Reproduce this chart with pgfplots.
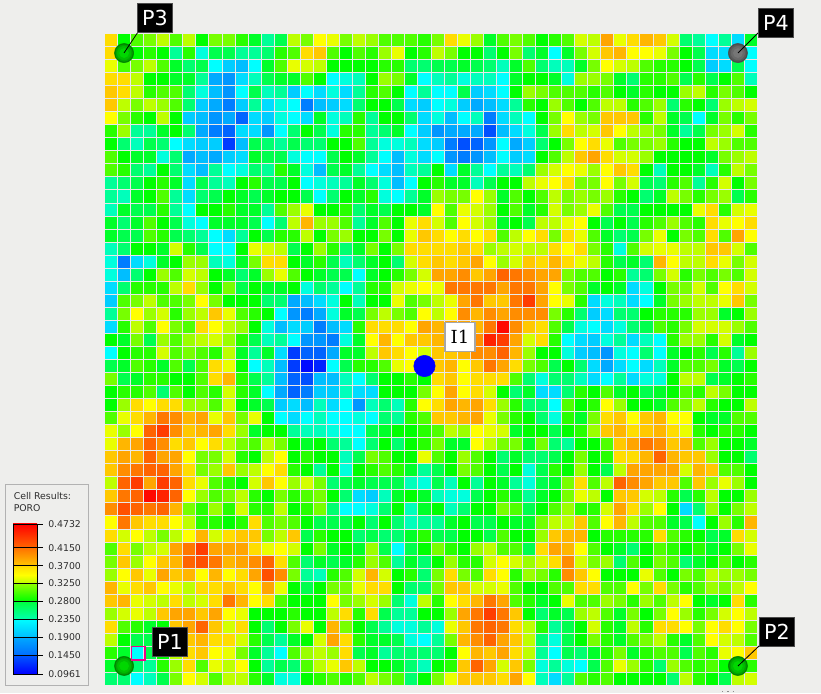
\documentclass[border=0pt]{standalone}
\usepackage{pgfplots}
\usepackage{pgfplotstable}
\usepackage{fontspec}
\setmainfont{DejaVu Sans}
\newfontfamily\wellserif{DejaVu Serif}
\pgfplotsset{compat=1.18}
\pgfplotstableread[header=false]{
.37 .28 .30 .31 .33 .30 .33 .28 .31 .31 .29 .27 .24 .26 .33 .31 .36 .35 .31 .33 .32 .30 .30 .30 .29 .31 .37 .35 .32 .27 .30 .31 .30 .28 .29 .30 .34 .33 .40 .35 .37 .39 .38 .34 .25 .24 .21 .24 .20 .27
.37 .30 .28 .29 .28 .24 .29 .22 .26 .26 .24 .24 .25 .29 .30 .37 .38 .30 .28 .30 .29 .32 .35 .28 .29 .33 .31 .28 .28 .25 .28 .31 .25 .27 .21 .27 .31 .34 .38 .39 .36 .36 .35 .31 .28 .26 .20 .20 .22 .21
.35 .30 .31 .33 .30 .27 .25 .26 .21 .19 .18 .21 .27 .30 .35 .34 .33 .28 .28 .28 .28 .29 .29 .25 .25 .26 .26 .27 .26 .25 .23 .27 .30 .25 .23 .23 .27 .31 .36 .34 .33 .30 .29 .29 .28 .26 .19 .20 .26 .21
.37 .37 .33 .28 .28 .27 .27 .24 .17 .16 .20 .23 .26 .27 .27 .30 .28 .21 .22 .23 .28 .32 .31 .27 .21 .23 .24 .22 .23 .23 .21 .27 .28 .28 .27 .22 .32 .32 .31 .27 .25 .29 .29 .30 .26 .29 .26 .28 .30 .23
.38 .37 .33 .29 .30 .30 .25 .22 .18 .16 .21 .26 .23 .24 .19 .21 .20 .22 .20 .24 .29 .30 .28 .21 .24 .21 .21 .26 .19 .20 .21 .28 .32 .31 .30 .30 .30 .29 .30 .28 .27 .29 .28 .28 .32 .33 .29 .31 .30 .28
.38 .33 .31 .33 .32 .30 .25 .19 .17 .15 .19 .24 .20 .22 .21 .15 .18 .19 .20 .25 .28 .28 .26 .20 .19 .21 .22 .19 .17 .18 .20 .24 .29 .28 .32 .30 .28 .30 .33 .33 .29 .30 .32 .25 .29 .28 .25 .32 .33 .34
.36 .31 .29 .28 .33 .28 .19 .18 .16 .17 .14 .20 .19 .22 .21 .20 .27 .22 .23 .29 .24 .28 .28 .25 .20 .22 .18 .21 .23 .15 .20 .23 .21 .28 .31 .36 .32 .31 .38 .38 .38 .29 .33 .27 .26 .21 .27 .31 .29 .31
.29 .32 .24 .24 .27 .28 .25 .17 .15 .14 .20 .20 .16 .21 .25 .28 .26 .22 .29 .29 .24 .25 .27 .21 .19 .16 .17 .17 .17 .13 .18 .20 .22 .26 .32 .37 .33 .34 .38 .36 .33 .32 .31 .27 .24 .26 .31 .32 .34 .29
.28 .25 .23 .26 .25 .21 .20 .19 .19 .12 .18 .26 .25 .24 .26 .25 .25 .28 .28 .30 .24 .22 .22 .23 .20 .19 .15 .13 .14 .16 .21 .17 .19 .25 .28 .31 .36 .37 .35 .30 .31 .31 .32 .29 .28 .28 .33 .32 .30 .30
.30 .28 .27 .27 .22 .25 .17 .18 .17 .19 .20 .27 .26 .26 .22 .21 .21 .26 .28 .27 .24 .21 .18 .22 .20 .21 .16 .15 .16 .18 .21 .19 .20 .28 .30 .33 .38 .40 .37 .34 .34 .32 .28 .28 .28 .28 .27 .31 .32 .33
.30 .29 .25 .24 .28 .25 .20 .18 .24 .21 .22 .25 .24 .29 .27 .22 .18 .26 .27 .24 .21 .20 .18 .23 .24 .28 .20 .27 .24 .21 .24 .23 .25 .32 .34 .36 .35 .32 .36 .38 .37 .28 .23 .28 .28 .27 .23 .29 .33 .31
.24 .25 .26 .28 .29 .27 .20 .26 .24 .23 .28 .29 .26 .26 .28 .21 .22 .23 .24 .27 .25 .22 .18 .21 .28 .29 .27 .27 .23 .26 .28 .28 .33 .35 .36 .37 .31 .31 .36 .31 .34 .26 .25 .29 .30 .24 .29 .34 .28 .31
.24 .23 .27 .28 .30 .24 .20 .25 .26 .28 .27 .26 .27 .28 .28 .26 .21 .25 .28 .27 .29 .22 .21 .24 .27 .32 .31 .31 .36 .32 .27 .30 .28 .30 .33 .31 .32 .31 .32 .29 .28 .25 .27 .33 .31 .29 .31 .32 .26 .29
.23 .27 .26 .26 .29 .24 .21 .28 .28 .29 .27 .27 .24 .30 .32 .35 .28 .28 .29 .25 .27 .26 .28 .28 .27 .36 .30 .35 .34 .32 .28 .30 .27 .29 .34 .31 .32 .35 .30 .26 .26 .28 .28 .28 .28 .35 .37 .29 .34 .35
.27 .25 .27 .30 .28 .26 .22 .21 .27 .27 .27 .26 .21 .25 .33 .39 .32 .32 .30 .24 .27 .30 .28 .35 .37 .34 .30 .36 .34 .32 .27 .28 .26 .33 .33 .35 .36 .28 .26 .28 .26 .29 .30 .32 .30 .29 .37 .35 .36 .37
.27 .26 .26 .30 .29 .26 .25 .24 .21 .20 .24 .28 .26 .29 .29 .33 .28 .31 .32 .28 .28 .31 .28 .35 .38 .37 .36 .37 .36 .37 .30 .33 .36 .37 .31 .37 .35 .30 .27 .25 .26 .31 .35 .28 .31 .30 .37 .30 .40 .36
.23 .25 .28 .28 .27 .34 .29 .26 .21 .21 .28 .35 .34 .33 .26 .28 .32 .29 .25 .27 .31 .28 .31 .37 .37 .37 .37 .38 .37 .32 .33 .34 .33 .33 .37 .36 .37 .31 .29 .22 .30 .34 .35 .35 .33 .33 .38 .38 .34 .30
.22 .15 .20 .22 .27 .28 .32 .32 .23 .22 .27 .31 .37 .37 .28 .27 .29 .26 .23 .25 .27 .28 .25 .34 .37 .38 .37 .38 .40 .36 .32 .34 .38 .37 .39 .37 .35 .33 .29 .26 .27 .25 .39 .36 .33 .33 .37 .35 .31 .34
.22 .18 .25 .28 .32 .30 .34 .33 .28 .27 .25 .27 .32 .35 .30 .28 .27 .26 .26 .21 .27 .28 .29 .31 .34 .40 .40 .41 .38 .40 .43 .42 .41 .40 .40 .31 .30 .30 .28 .29 .24 .25 .31 .34 .29 .31 .30 .31 .30 .34
.20 .25 .29 .29 .29 .33 .37 .32 .28 .31 .26 .28 .27 .27 .28 .22 .25 .24 .21 .24 .29 .29 .34 .35 .36 .35 .42 .42 .42 .42 .40 .42 .42 .40 .36 .31 .30 .27 .28 .27 .20 .22 .28 .31 .31 .34 .30 .36 .37 .34
.19 .30 .31 .33 .30 .30 .31 .36 .31 .28 .28 .28 .25 .25 .17 .18 .20 .22 .28 .23 .28 .28 .35 .30 .31 .33 .35 .40 .42 .38 .38 .42 .45 .40 .36 .35 .29 .20 .22 .23 .20 .21 .27 .31 .32 .33 .33 .35 .38 .31
.24 .31 .36 .32 .34 .29 .32 .33 .38 .35 .30 .29 .28 .21 .16 .15 .17 .22 .27 .26 .31 .33 .31 .30 .36 .33 .36 .41 .39 .41 .40 .41 .41 .41 .31 .29 .25 .19 .20 .25 .25 .28 .29 .29 .29 .32 .32 .27 .28 .32
.20 .29 .33 .30 .36 .31 .30 .37 .36 .33 .32 .28 .22 .18 .20 .19 .15 .18 .20 .29 .37 .37 .37 .36 .40 .39 .40 .40 .39 .42 .47 .41 .38 .37 .30 .26 .22 .21 .20 .22 .25 .26 .30 .29 .31 .34 .34 .34 .32 .30
.28 .27 .31 .26 .32 .30 .32 .33 .34 .32 .29 .26 .23 .24 .21 .16 .16 .15 .22 .27 .36 .39 .36 .38 .38 .39 .40 .40 .41 .46 .45 .40 .34 .37 .29 .21 .20 .19 .22 .24 .20 .23 .21 .29 .32 .32 .29 .34 .27 .28
.21 .28 .29 .29 .34 .30 .31 .30 .29 .33 .27 .24 .27 .20 .12 .14 .14 .17 .27 .27 .33 .38 .37 .36 .34 .38 .38 .39 .41 .41 .43 .39 .32 .28 .28 .22 .19 .18 .16 .22 .21 .25 .21 .27 .28 .29 .26 .29 .24 .32
.26 .27 .30 .29 .27 .30 .26 .30 .37 .35 .28 .21 .23 .18 .12 .10 .11 .21 .26 .29 .29 .30 .35 .36 .37 .38 .39 .36 .38 .42 .40 .37 .31 .30 .26 .28 .25 .20 .17 .20 .21 .20 .23 .27 .30 .30 .31 .27 .26 .28
.31 .26 .27 .29 .29 .28 .28 .30 .37 .39 .29 .26 .24 .18 .14 .13 .18 .18 .23 .21 .25 .28 .28 .29 .28 .37 .38 .36 .37 .37 .37 .30 .25 .22 .25 .25 .23 .20 .21 .24 .20 .22 .22 .28 .33 .33 .26 .27 .28 .29
.28 .29 .29 .30 .25 .30 .28 .30 .29 .34 .29 .27 .21 .17 .14 .15 .19 .19 .23 .20 .20 .28 .28 .28 .31 .36 .40 .36 .37 .34 .28 .25 .27 .20 .20 .25 .29 .28 .30 .27 .28 .26 .27 .28 .30 .29 .33 .31 .28 .28
.28 .32 .37 .36 .37 .37 .32 .32 .30 .34 .28 .27 .26 .19 .20 .18 .23 .20 .21 .16 .23 .25 .23 .29 .36 .37 .40 .39 .40 .37 .32 .29 .25 .25 .21 .30 .28 .29 .36 .32 .28 .28 .27 .30 .31 .33 .29 .28 .28 .33
.30 .35 .37 .39 .42 .41 .39 .40 .35 .38 .31 .35 .28 .21 .20 .21 .23 .21 .21 .22 .21 .25 .24 .29 .30 .38 .38 .39 .40 .35 .31 .29 .28 .25 .22 .29 .27 .31 .37 .38 .36 .38 .39 .36 .36 .28 .27 .27 .30 .30
.35 .32 .36 .43 .45 .41 .38 .39 .40 .37 .32 .27 .28 .28 .24 .23 .23 .22 .21 .21 .26 .27 .28 .28 .29 .30 .33 .32 .36 .35 .34 .27 .28 .28 .26 .28 .29 .32 .38 .39 .37 .38 .39 .37 .35 .29 .28 .29 .29 .28
.35 .39 .40 .43 .41 .37 .38 .36 .37 .33 .31 .30 .33 .31 .28 .27 .28 .25 .24 .21 .25 .28 .25 .28 .29 .31 .27 .27 .36 .33 .31 .31 .27 .31 .25 .24 .28 .28 .30 .38 .40 .42 .41 .38 .39 .30 .32 .28 .28 .27
.38 .40 .39 .43 .40 .40 .36 .31 .31 .34 .29 .28 .33 .36 .28 .29 .28 .28 .23 .26 .31 .30 .28 .28 .35 .30 .28 .32 .30 .28 .25 .27 .25 .25 .26 .28 .31 .28 .29 .37 .37 .39 .43 .39 .38 .38 .32 .28 .28 .25
.38 .41 .42 .43 .43 .40 .37 .31 .32 .38 .32 .33 .36 .37 .29 .28 .24 .28 .22 .28 .29 .30 .29 .27 .24 .26 .28 .31 .30 .28 .26 .28 .22 .26 .29 .28 .32 .28 .26 .33 .40 .40 .40 .40 .34 .39 .38 .30 .30 .28
.33 .43 .45 .40 .45 .43 .37 .35 .30 .29 .28 .34 .38 .36 .32 .34 .31 .25 .26 .27 .26 .26 .26 .23 .22 .26 .23 .28 .24 .28 .27 .24 .22 .26 .27 .31 .37 .30 .33 .43 .41 .40 .38 .38 .30 .38 .32 .35 .32 .28
.38 .42 .43 .47 .46 .43 .36 .32 .30 .31 .33 .29 .28 .31 .29 .30 .31 .28 .25 .20 .19 .23 .27 .28 .27 .23 .22 .22 .26 .28 .29 .27 .24 .27 .28 .31 .35 .33 .28 .38 .38 .34 .33 .29 .26 .29 .33 .28 .28 .32
.41 .44 .43 .42 .43 .39 .31 .29 .32 .29 .34 .29 .29 .33 .28 .29 .31 .25 .21 .21 .22 .25 .28 .23 .27 .28 .23 .25 .28 .28 .31 .30 .26 .28 .30 .32 .29 .29 .34 .40 .37 .32 .36 .28 .20 .25 .32 .28 .31 .33
.36 .42 .38 .37 .37 .36 .33 .29 .29 .28 .29 .37 .30 .31 .30 .28 .26 .26 .26 .28 .25 .28 .25 .23 .24 .24 .27 .28 .26 .26 .28 .27 .27 .31 .33 .33 .38 .30 .36 .39 .33 .30 .30 .27 .26 .21 .28 .32 .29 .39
.37 .34 .36 .33 .31 .33 .36 .39 .34 .37 .38 .38 .31 .33 .38 .26 .29 .28 .28 .25 .26 .25 .25 .27 .29 .26 .26 .28 .28 .26 .30 .28 .28 .32 .38 .39 .39 .28 .29 .29 .29 .29 .37 .30 .29 .28 .26 .27 .37 .34
.30 .37 .31 .33 .34 .40 .42 .45 .40 .40 .40 .37 .35 .36 .34 .28 .31 .27 .28 .27 .32 .26 .21 .26 .28 .31 .29 .28 .32 .33 .30 .30 .26 .37 .40 .39 .36 .30 .28 .27 .25 .28 .30 .29 .28 .29 .27 .28 .31 .35
.31 .38 .32 .36 .38 .39 .43 .44 .42 .39 .40 .41 .43 .37 .30 .25 .27 .26 .27 .29 .32 .30 .24 .27 .25 .28 .32 .29 .29 .34 .36 .34 .32 .34 .37 .41 .34 .31 .32 .25 .30 .28 .31 .30 .25 .27 .28 .30 .28 .29
.32 .36 .38 .35 .40 .38 .39 .36 .39 .36 .37 .40 .44 .41 .31 .24 .23 .29 .30 .34 .39 .34 .28 .29 .25 .31 .37 .31 .30 .37 .36 .29 .32 .31 .29 .41 .38 .36 .28 .28 .28 .35 .30 .28 .31 .30 .33 .32 .32 .31
.39 .35 .37 .38 .36 .35 .33 .37 .37 .38 .37 .36 .40 .35 .28 .26 .28 .31 .31 .35 .37 .37 .28 .25 .25 .31 .38 .38 .34 .34 .35 .30 .28 .28 .30 .30 .37 .37 .30 .30 .36 .31 .37 .31 .29 .30 .32 .31 .33 .36
.38 .39 .35 .34 .33 .37 .33 .34 .37 .42 .39 .36 .37 .30 .28 .28 .28 .36 .31 .32 .34 .32 .25 .22 .33 .29 .36 .37 .39 .42 .40 .30 .29 .27 .28 .35 .30 .30 .32 .31 .29 .32 .30 .33 .36 .28 .27 .28 .37 .29
.32 .34 .35 .33 .38 .40 .40 .38 .40 .36 .35 .28 .28 .28 .29 .28 .28 .33 .37 .29 .37 .26 .24 .24 .28 .28 .32 .40 .42 .45 .42 .38 .28 .25 .27 .26 .32 .33 .30 .27 .31 .28 .31 .36 .32 .29 .31 .34 .36 .33
.37 .30 .29 .27 .28 .38 .40 .43 .38 .34 .37 .28 .25 .28 .31 .35 .28 .39 .31 .28 .26 .24 .22 .22 .24 .22 .35 .38 .42 .43 .42 .37 .33 .29 .24 .26 .28 .34 .29 .27 .33 .29 .37 .37 .36 .31 .36 .37 .36 .31
.33 .28 .26 .26 .28 .38 .38 .39 .37 .37 .34 .29 .26 .24 .27 .28 .34 .40 .37 .29 .27 .27 .26 .22 .21 .24 .31 .39 .41 .43 .40 .38 .33 .25 .22 .26 .28 .31 .29 .27 .30 .31 .33 .29 .27 .30 .36 .34 .33 .30
.29 .27 .21 .26 .28 .33 .37 .38 .36 .35 .31 .27 .24 .21 .30 .32 .33 .32 .37 .26 .27 .24 .25 .25 .25 .25 .28 .36 .39 .38 .40 .37 .33 .24 .21 .26 .25 .27 .29 .31 .27 .29 .30 .30 .26 .30 .29 .35 .36 .38
.27 .26 .25 .24 .29 .32 .37 .30 .35 .33 .36 .28 .24 .26 .25 .30 .33 .35 .38 .33 .28 .28 .27 .25 .23 .28 .29 .38 .43 .40 .34 .38 .31 .22 .24 .22 .21 .26 .30 .35 .32 .29 .25 .32 .30 .29 .30 .28 .30 .29
.25 .25 .21 .23 .26 .31 .36 .34 .30 .33 .33 .29 .27 .22 .22 .28 .29 .30 .29 .30 .33 .31 .30 .25 .28 .31 .35 .38 .38 .38 .37 .40 .36 .23 .20 .24 .30 .29 .30 .28 .28 .28 .28 .25 .33 .29 .28 .26 .33 .34
}\poro
\pgfplotsset{
  colormap={poro}{
    rgb255(96)=(0,0,255) rgb255(120)=(0,60,255) rgb255(140)=(0,100,255)
    rgb255(160)=(0,150,255) rgb255(180)=(0,190,255) rgb255(200)=(0,220,255)
    rgb255(210)=(0,255,255) rgb255(235)=(0,255,170) rgb255(250)=(0,255,110)
    rgb255(265)=(0,255,60) rgb255(280)=(0,255,0) rgb255(310)=(120,255,0)
    rgb255(330)=(190,255,0) rgb255(360)=(255,255,0) rgb255(370)=(255,220,0)
    rgb255(385)=(255,190,0) rgb255(400)=(255,165,0) rgb255(415)=(255,128,0)
    rgb255(430)=(255,100,0) rgb255(450)=(255,60,0) rgb255(473)=(255,0,0)
  },
  gridaxis/.style={
    at={(78.375pt,5.625pt)},anchor=south west,
    scale only axis,width=489.75pt,height=489pt,
    hide axis,clip=false,
    xmin=-.5,xmax=49.5,ymin=-.5,ymax=49.5,
  },
}
\definecolor{pagebg}{RGB}{238,238,236}
\definecolor{gapc}{RGB}{232,232,232}
\definecolor{lbl}{RGB}{45,45,45}
\definecolor{wg1}{RGB}{0,130,0}\definecolor{wg2}{RGB}{0,165,0}\definecolor{wg3}{RGB}{0,190,0}\definecolor{wg4}{RGB}{0,215,0}
\definecolor{wd1}{RGB}{75,75,75}\definecolor{wd2}{RGB}{90,90,90}\definecolor{wd3}{RGB}{105,105,105}\definecolor{wd4}{RGB}{118,118,118}
\begin{document}
\begin{tikzpicture}
\begin{scope}[x=.75pt,y=-.75pt,yshift=519.75pt]
\fill[pagebg] (0,0) rectangle (821,693);
\end{scope}
\begin{axis}[gridaxis,
  colormap name=poro,point meta min=.0961,point meta max=.4732,
]
\pgfplotsinvokeforeach{0,...,49}{
  \addplot[scatter,only marks,mark=square*,mark size=4.9pt,
    scatter/use mapped color={draw=mapped color,fill=mapped color,line width=.1pt},
    point meta=explicit]
    table[x expr=#1,y expr=49-\coordindex,meta index=#1]{\poro};
}
\end{axis}
\begin{scope}[x=.75pt,y=-.75pt,yshift=519.75pt]
\foreach \k in {1,...,49}{
  \draw[gapc,line width=.75pt] ({104.5+13.06*\k},33.5) -- ({104.5+13.06*\k},685.5);
  \draw[gapc,line width=.75pt] (104.5,{33.5+13.04*\k}) -- (757.5,{33.5+13.04*\k});
}
\draw[pagebg,line width=.75pt] (104.5,33.5) rectangle (757.5,685.5);
\end{scope}
\begin{axis}[gridaxis]
\addplot[only marks,mark=*,mark size=7.2pt,mark options={fill=wg1,draw=wg1}] coordinates {(1,1) (48,1) (1,48)};
\addplot[only marks,mark=*,mark size=6.2pt,mark options={fill=wg2,draw=wg2}] coordinates {(1,1) (48,1) (1,48)};
\addplot[only marks,mark=*,mark size=5pt,mark options={fill=wg3,draw=wg3}] coordinates {(1,1) (48,1) (1,48)};
\addplot[only marks,mark=*,mark size=3.4pt,mark options={fill=wg4,draw=wg4}] coordinates {(1,1) (48,1) (1,48)};
\addplot[only marks,mark=*,mark size=7.2pt,mark options={fill=wd1,draw=wd1}] coordinates {(48,48)};
\addplot[only marks,mark=*,mark size=6.2pt,mark options={fill=wd2,draw=wd2}] coordinates {(48,48)};
\addplot[only marks,mark=*,mark size=5pt,mark options={fill=wd3,draw=wd3}] coordinates {(48,48)};
\addplot[only marks,mark=*,mark size=3.4pt,mark options={fill=wd4,draw=wd4}] coordinates {(48,48)};
\addplot[only marks,mark=*,mark size=8pt,mark options={fill=blue,draw=blue}] coordinates {(24,24)};
\end{axis}
\begin{scope}[x=.75pt,y=-.75pt,yshift=519.75pt]
% picked cell
\draw[magenta,line width=.8pt] (131.5,646.5) rectangle (145,660);
% leaders
\draw[black,line width=.6pt] (124,53) -- (138,32);
\draw[black,line width=.6pt] (738,53) -- (758,33);
\draw[black,line width=.6pt] (738,666) -- (759,646);
% labels
\foreach \x/\y/\t in {155/18/P3,776/23/P4,170/642/P1,777/632/P2}{
  \node[fill=black,draw=black!70!white,line width=.7pt,text=white,font=\fontsize{15.5}{17}\selectfont,
    minimum width=26pt,minimum height=21.5pt,inner sep=0pt] at (\x,\y) {\t};
}
\node[fill=white,draw=black!35!white,line width=.9pt,text=black,font=\wellserif\fontsize{13.5}{16}\selectfont,
  minimum width=22.5pt,minimum height=22pt,inner sep=0pt] at (460,337) {I1};
% legend
\draw[fill=pagebg,draw=black!30!white,line width=.7pt] (5,484.5) rectangle (88,685);
\node[anchor=west,inner sep=0pt,text=lbl,font=\fontsize{7}{8}\selectfont] at (13.5,496) {Cell Results:};
\node[anchor=west,inner sep=0pt,text=lbl,font=\fontsize{7}{8}\selectfont] at (13.5,508) {PORO};
\shade[top color={rgb,255:red,255;green,0;blue,0},bottom color={rgb,255:red,255;green,100;blue,0}] (13,524) rectangle (37,547);
\shade[top color={rgb,255:red,255;green,110;blue,0},bottom color={rgb,255:red,255;green,195;blue,0}] (13,547) rectangle (37,565);
\shade[top color={rgb,255:red,255;green,215;blue,0},bottom color={rgb,255:red,255;green,255;blue,0}] (13,565) rectangle (37,575);
\shade[top color={rgb,255:red,255;green,255;blue,0},bottom color={rgb,255:red,190;green,255;blue,0}] (13,575) rectangle (37,583);
\shade[top color={rgb,255:red,150;green,255;blue,0},bottom color={rgb,255:red,0;green,255;blue,0}] (13,583) rectangle (37,601);
\shade[top color={rgb,255:red,0;green,255;blue,60},bottom color={rgb,255:red,0;green,255;blue,170}] (13,601) rectangle (37,619);
\shade[top color={rgb,255:red,0;green,255;blue,255},bottom color={rgb,255:red,0;green,190;blue,255}] (13,619) rectangle (37,637);
\shade[top color={rgb,255:red,0;green,170;blue,255},bottom color={rgb,255:red,0;green,110;blue,255}] (13,637) rectangle (37,655);
\shade[top color={rgb,255:red,0;green,90;blue,255},bottom color={rgb,255:red,0;green,0;blue,255}] (13,655) rectangle (37,674);
\draw[black,line width=.6pt] (13,524) rectangle (37,674);
\foreach \y/\ly/\t in {524/524.5/0.4732,547/548/0.4150,565/566/0.3700,583/583.5/0.3250,601/601.5/0.2800,619/619.5/0.2350,637/637.5/0.1900,655/655.5/0.1450,674/674.5/0.0961}{
  \draw[black,line width=.6pt] (13,\y) -- (43,\y);
  \node[anchor=west,inner sep=0pt,text=lbl,font=\fontsize{7}{8}\selectfont] at (48,\ly) {\t};
}
\draw[black!45!white,line width=.7pt,dash pattern=on 1pt off 3pt] (722,691) -- (738,691);
\end{scope}
\end{tikzpicture}
\end{document}
